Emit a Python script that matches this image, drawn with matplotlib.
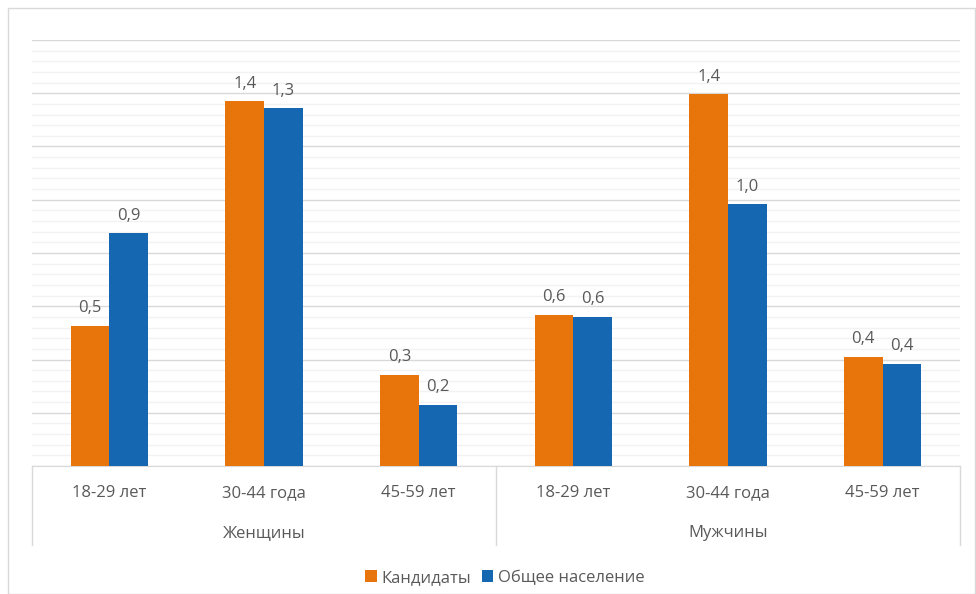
import matplotlib
matplotlib.use('Agg')
import matplotlib.pyplot as plt
from matplotlib.patches import Rectangle
from matplotlib.ticker import MultipleLocator
import numpy as np

plt.rcParams['font.family'] = ['Open Sans', 'DejaVu Sans']

# data
age_groups = ['18-29 лет', '30-44 года', '45-59 лет', '18-29 лет', '30-44 года', '45-59 лет']
sexes = ['Женщины', 'Мужчины']
candidates = [0.525, 1.37, 0.341, 0.567, 1.396, 0.409]
population = [0.874, 1.343, 0.229, 0.559, 0.983, 0.383]
series_names = ['Кандидаты', 'Общее население']

orange = '#E8740C'
blue = '#1467B0'
txt = '#595959'
fs = 12

fig = plt.figure(figsize=(9.76, 5.94), dpi=100)
ax = fig.add_axes([32 / 976, (594 - 466) / 594, 928 / 976, 426 / 594])

x = np.arange(len(age_groups))
w = 0.25
b1 = ax.bar(x - w / 2, candidates, w, color=orange, label=series_names[0], zorder=3)
b2 = ax.bar(x + w / 2, population, w, color=blue, label=series_names[1], zorder=3)

for bars in (b1, b2):
    for r in bars:
        v = r.get_height()
        ax.annotate('{:.1f}'.format(v).replace('.', ','),
                    (r.get_x() + r.get_width() / 2, v),
                    xytext=(0, 7), textcoords='offset points',
                    ha='center', va='bottom', fontsize=fs, color=txt)

ax.set_xlim(-0.5, len(age_groups) - 0.5)
ax.set_ylim(0, 1.6)
ax.yaxis.set_major_locator(MultipleLocator(0.2))
ax.yaxis.set_minor_locator(MultipleLocator(0.04))
ax.grid(axis='y', which='major', color='#D9D9D9', lw=1, zorder=0)
ax.grid(axis='y', which='minor', color='#F2F2F2', lw=1, zorder=0)
ax.tick_params(axis='y', which='both', left=False, labelleft=False)
ax.tick_params(axis='x', bottom=False, labelbottom=False)
for s in ['top', 'right', 'left']:
    ax.spines[s].set_visible(False)
ax.spines['bottom'].set_color('#D9D9D9')

# two-level category axis
tr = ax.get_xaxis_transform()
for i, lab in enumerate(age_groups):
    ax.text(i, -0.064, lab, transform=tr, ha='center', va='center', fontsize=fs, color=txt)
for j, lab in enumerate(sexes):
    ax.text(j * 3 + 1, -0.158, lab, transform=tr, ha='center', va='center', fontsize=fs, color=txt)
for xv in [-0.5, 2.5, 5.5]:
    ax.plot([xv, xv], [0, -0.185], transform=tr, color='#D9D9D9', lw=1, clip_on=False)

fig.legend(handles=[b1, b2], loc='center', bbox_to_anchor=(505 / 976, 1 - 578 / 594),
           ncol=2, frameon=False, fontsize=fs, labelcolor=txt,
           handlelength=0.7, handleheight=0.7, handletextpad=0.3, columnspacing=0.6)

fig.patches.append(Rectangle((8 / 976, 0.0), 967 / 976, 1 - 8 / 594, transform=fig.transFigure,
                             fill=False, edgecolor='#D9D9D9', lw=1))

fig.savefig('out.png', dpi=100)
